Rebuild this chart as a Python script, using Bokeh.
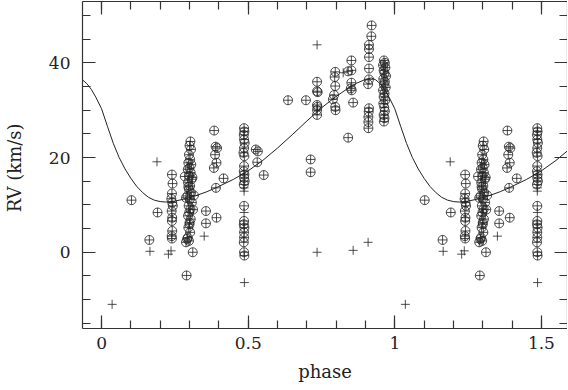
from bokeh.plotting import figure
from bokeh.models import Range1d, LinearAxis, SingleIntervalTicker, ColumnDataSource
from bokeh.embed import file_html
from bokeh.resources import INLINE

# ---------------- data (phase in [0,1), RV in km/s) ----------------
circ_phase = [
    0.102, 0.163, 0.191,
    # column ~0.24
    0.240, 0.242, 0.240, 0.238, 0.241, 0.243, 0.239, 0.241, 0.240, 0.241, 0.239, 0.240,
    # dense column ~0.30
    0.303, 0.300, 0.305, 0.298, 0.302, 0.296, 0.306, 0.300, 0.294, 0.304, 0.299,
    0.307, 0.295, 0.302, 0.298, 0.305, 0.293, 0.301, 0.308, 0.297, 0.303, 0.299,
    0.295, 0.304, 0.300, 0.296, 0.302, 0.294, 0.298,
    0.310, 0.315, 0.312, 0.300, 0.296, 0.284, 0.288, 0.290, 0.311, 0.288, 0.292,
    # around 0.36-0.42
    0.356, 0.356, 0.392, 0.384, 0.389, 0.394, 0.387, 0.392, 0.383, 0.390, 0.416,
    # column ~0.486
    0.486, 0.487, 0.485, 0.486, 0.488, 0.486, 0.484, 0.487, 0.486, 0.485, 0.487,
    0.486, 0.488, 0.485, 0.486, 0.486, 0.485, 0.487, 0.486, 0.486, 0.485, 0.486, 0.487,
    # 0.52-0.56
    0.526, 0.533, 0.531, 0.553,
    # 0.6-0.72
    0.636, 0.697, 0.713, 0.713,
    0.735, 0.735, 0.737, 0.735, 0.736, 0.735, 0.735,
    # ~0.79
    0.797, 0.795, 0.797, 0.793, 0.789, 0.797, 0.798,
    # ~0.85
    0.852, 0.852, 0.841, 0.852, 0.850, 0.853, 0.858, 0.841,
    # column ~0.91
    0.921, 0.920, 0.912, 0.912, 0.912, 0.912, 0.912, 0.909, 0.912, 0.911, 0.910, 0.910, 0.910,
    # dense column ~0.965
    0.963, 0.966, 0.960, 0.968, 0.962, 0.965, 0.970, 0.961, 0.966, 0.963, 0.969,
    0.960, 0.965, 0.962, 0.967, 0.961, 0.964, 0.966, 0.962, 0.965, 0.963,
]
circ_rv = [
    11.0, 2.6, 8.4,
    16.4, 14.5, 12.4, 11.3, 10.5, 9.8, 8.7, 7.3, 6.6, 4.5, 3.4, 2.9,
    23.4, 22.5, 21.7, 20.6, 19.6, 18.9, 18.5, 17.8, 17.5, 16.8, 16.1,
    15.4, 14.7, 14.0, 13.3, 12.6, 11.9, 11.2, 10.5, 9.8, 9.1, 8.4,
    7.7, 7.0, 5.9, 5.2, 4.2, 3.1, 2.4,
    15.8, 12.0, 9.0, 6.3, 13.8, 16.0, 11.5, -4.9, 0.0, 2.1, 2.8,
    8.7, 6.1, 7.3, 25.7, 22.3, 22.0, 20.6, 18.9, 17.8, 13.6, 15.6,
    26.2, 25.5, 24.8, 23.8, 23.1, 22.0, 21.0, 20.3, 18.2, 17.1, 16.4,
    15.7, 15.0, 14.3, 9.8, 6.6, 5.9, 5.2, 4.2, 3.1, 2.1, 0.0, -0.7,
    21.7, 21.3, 19.0, 16.3,
    32.1, 32.1, 19.6, 16.9,
    36.0, 34.0, 33.8, 31.1, 30.7, 30.0, 29.0,
    38.1, 37.0, 35.1, 33.2, 32.3, 30.7, 30.0,
    40.5, 38.4, 38.2, 35.8, 34.6, 34.2, 31.6, 24.2,
    47.9, 45.6, 43.8, 42.9, 41.2, 38.8, 36.5, 35.5, 30.4, 29.7, 28.6, 27.5, 26.2,
    40.5, 40.0, 39.5, 39.0, 38.4, 37.8, 37.2, 36.6, 36.0, 35.4, 34.8,
    34.2, 33.5, 32.8, 32.1, 31.4, 30.6, 29.8, 29.0, 28.3, 27.6,
]
plus_phase = [0.036, 0.189, 0.165, 0.228, 0.237, 0.350, 0.486, 0.486, 0.486, 0.487,
              0.735, 0.735, 0.858, 0.909, 0.824]
plus_rv = [-11.0, 19.1, 0.2, -0.4, 0.3, 3.4, 13.6, 12.9, 8.4, -6.4,
           43.8, 0.0, 0.4, 2.1, 37.9]

# model RV curve (one cycle)
curve_phase = [0.00, 0.02, 0.04, 0.06, 0.08, 0.10, 0.12, 0.14, 0.16, 0.18, 0.20, 0.22,
               0.25, 0.28, 0.32, 0.36, 0.40, 0.45, 0.50, 0.55, 0.60, 0.65, 0.70, 0.75,
               0.80, 0.84, 0.87, 0.90, 0.92, 0.935, 0.95, 0.965, 0.98, 1.00]
curve_rv = [30.3, 26.6, 23.0, 20.0, 17.6, 15.6, 13.9, 12.6, 11.6, 11.0, 10.7, 10.6,
            10.8, 11.2, 11.9, 12.8, 13.9, 15.4, 17.2, 19.4, 22.0, 24.8, 27.7, 30.5,
            32.9, 34.6, 35.7, 36.5, 36.8, 36.4, 35.6, 34.4, 32.8, 30.3]

x_tick_values = [0, 0.5, 1, 1.5]
x_tick_labels = ["0", "0.5", "1", "1.5"]
y_tick_values = [0, 20, 40]
y_tick_labels = ["0", "20", "40"]

# ---------------- fold: repeat the first half of the cycle at phase+1 ----------------
def fold(ph, rv, cutoff=0.5):
    xs = list(ph) + [q + 1 for q in ph if q < cutoff]
    ys = list(rv) + [r for q, r in zip(ph, rv) if q < cutoff]
    return xs, ys

cx, cy = fold(circ_phase, circ_rv)
px, py = fold(plus_phase, plus_rv)
lx = [q + k for k in (-1, 0, 1) for q in curve_phase]
ly = [r for k in (-1, 0, 1) for r in curve_rv]

FONT = "DejaVu Serif"
INK = "#222222"

p = figure(frame_width=485, frame_height=327,
           x_range=Range1d(-0.065, 1.589), y_range=Range1d(-16.1, 52.95),
           output_backend="svg", toolbar_location=None,
           min_border_left=60, min_border_right=0, min_border_top=1, min_border_bottom=0,
           x_axis_label="phase", y_axis_label="RV  (km/s)")
p.grid.visible = False
p.outline_line_color = None
p.background_fill_color = "white"
p.border_fill_color = "white"

p.line(lx, ly, line_color=INK, line_width=1)
p.scatter(x="x", y="y", source=ColumnDataSource(dict(x=cx, y=cy)), marker="circle_cross",
          size=9, fill_color=None, line_color=INK, line_width=0.8)
p.scatter(x="x", y="y", source=ColumnDataSource(dict(x=px, y=py)), marker="cross",
          size=9, line_color=INK, line_width=0.8)

def style(ax, labels=True):
    ax.axis_line_color = "#333333"
    ax.axis_line_width = 1.2
    ax.major_tick_line_color = "#333333"
    ax.minor_tick_line_color = "#333333"
    ax.major_tick_line_width = 1.2
    ax.minor_tick_line_width = 1.2
    ax.major_tick_in = 13
    ax.major_tick_out = 0
    ax.minor_tick_in = 8
    ax.minor_tick_out = 0
    if labels:
        ax.major_label_text_font = FONT
        ax.major_label_text_font_size = "17px"
        ax.major_label_text_color = INK
        ax.axis_label_text_font = FONT
        ax.axis_label_text_font_size = "18px"
        ax.axis_label_text_font_style = "normal"
        ax.axis_label_text_color = INK
    else:
        # tick marks only: labels are not drawn at all
        ax.major_label_text_color = None
        ax.major_label_text_font_size = "1px"
        ax.major_label_standoff = 0

xt = dict(zip(x_tick_values, x_tick_labels))
yt = dict(zip(y_tick_values, y_tick_labels))

p.xaxis.ticker = SingleIntervalTicker(interval=0.5, num_minor_ticks=5)
p.yaxis.ticker = SingleIntervalTicker(interval=20, num_minor_ticks=4)
p.xaxis.major_label_overrides = xt
p.yaxis.major_label_overrides = yt
for ax in p.xaxis + p.yaxis:
    style(ax)
p.xaxis.major_label_standoff = 8
p.xaxis.axis_label_standoff = 9
p.yaxis.major_label_standoff = 12
p.yaxis.axis_label_standoff = 21

top = LinearAxis(ticker=SingleIntervalTicker(interval=0.5, num_minor_ticks=5))
right = LinearAxis(ticker=SingleIntervalTicker(interval=20, num_minor_ticks=4))
style(top, labels=False)
style(right, labels=False)
p.add_layout(top, "above")
p.add_layout(right, "right")

open("out.html", "w").write(file_html(p, INLINE))
